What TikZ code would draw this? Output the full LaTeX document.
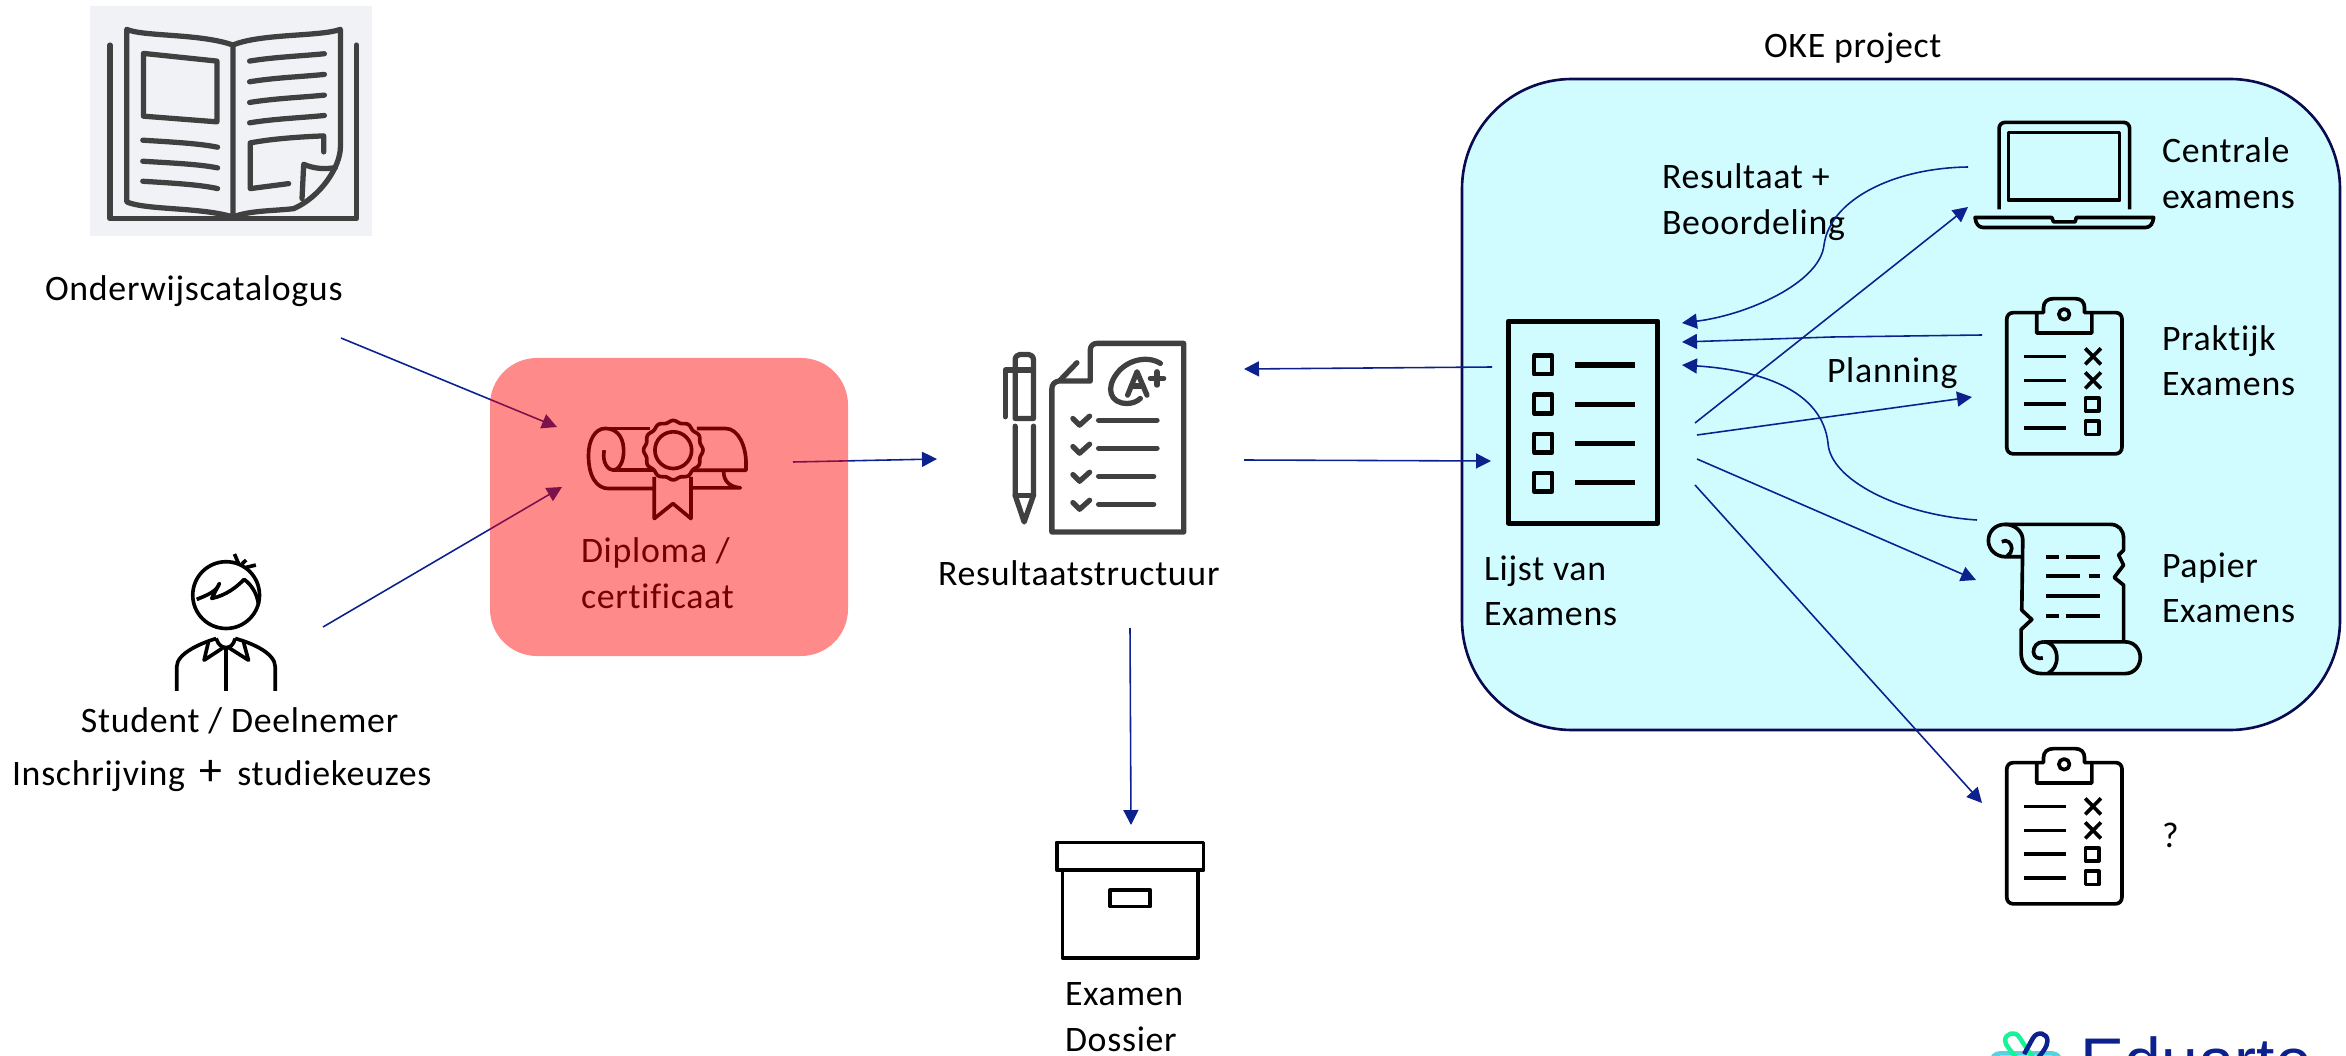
\documentclass[tikz,border=0pt]{standalone}
\usepackage{fontspec}
\setmainfont{Carlito}[LetterSpace=2.0,Ligatures=NoCommon]
\newfontfamily\logofont{Liberation Sans}
\usetikzlibrary{arrows.meta}
\definecolor{arrowblue}{RGB}{13,33,142}
\definecolor{okefill}{RGB}{208,252,255}
\definecolor{okeline}{RGB}{10,10,80}
\definecolor{icongrey}{RGB}{64,64,64}
\definecolor{bookbg}{RGB}{240,242,245}
\definecolor{logogreen}{RGB}{20,245,154}
\definecolor{logocyan}{RGB}{86,210,224}
\newcommand{\twolines}[2]{\vtop{\baselineskip=13.1pt\hbox{\strut #1}\hbox{\strut #2}}}
\tikzset{
  zoomed/.style={x=0.0033377cm,y=-0.0033377cm},
  icon/.style={draw=black,line width=1.04pt,line join=round,fill=none},
  greyicon/.style={draw=icongrey,line width=1.5pt,line cap=round,line join=round,fill=none},
  label/.style={anchor=base west,inner sep=0pt,outer sep=0pt,font=\fontsize{10.2pt}{13.1pt}\selectfont,text=black},
  conn/.style={draw=arrowblue,line width=.45pt,-{Triangle[length=.15cm,width=.15cm]}},
}
\newcommand{\clipboardicon}[1]{%
  \begin{scope}[shift={#1},zoomed]
    \draw[icon] (260,637) -- (190,637) .. controls (178,637) and (170,645) .. (170,657) -- (170,1040)
      .. controls (170,1052) and (178,1060) .. (190,1060) -- (495,1060)
      .. controls (507,1060) and (515,1052) .. (515,1040) -- (515,655)
      .. controls (515,645) and (507,637) .. (497,637) -- (425,637);
    \draw[icon] (260,698) -- (425,698) -- (425,637) -- (403,637) -- (403,622)
      .. controls (403,605) and (392,595) .. (375,595) -- (310,595)
      .. controls (292,595) and (280,605) .. (280,622) -- (280,637) -- (260,637) -- cycle;
    \draw[icon] (342,642) circle (16);
    \foreach \yy in {768,840,911,983} \draw[icon] (222,\yy) -- (348,\yy);
    \foreach \yy in {768,840} {
      \draw[icon] (405,\yy-24) -- (452,\yy+24);
      \draw[icon] (452,\yy-24) -- (405,\yy+24);
    }
    \draw[icon] (406,893) rectangle (446,931);
    \draw[icon] (406,962) rectangle (446,1002);
  \end{scope}}
\begin{document}
\begin{tikzpicture}[x=0.010013cm,y=-0.010013cm]
\useasboundingbox (0,0) rectangle (2346,1056);
\clip (0,0) rectangle (2346,1056);

% OKE project box
\draw[okeline,fill=okefill,line width=.75pt] (1462,79) [rounded corners=1.1cm] -- (1462,730) -- (2340,730) -- (2340,79) -- cycle;

% Book
\fill[bookbg] (90,6) rectangle (372,236);
\begin{scope}[shift={(60,0)},zoomed]
  \draw[greyicon] (150,135) -- (150,655) -- (888,655) -- (888,135);
  \draw[greyicon] (518,650) .. controls (420,620) and (260,630) .. (200,605) -- (200,88)
     .. controls (250,110) and (420,100) .. (518,135) -- (518,650);
  \draw[greyicon] (518,135) .. controls (600,100) and (780,110) .. (840,88) -- (840,440)
     .. controls (840,500) and (780,590) .. (700,625) .. controls (640,632) and (570,630) .. (518,650);
  \draw[greyicon] (250,160) -- (470,183) -- (470,365) -- (250,348) -- cycle;
  \draw[greyicon] (248,420) .. controls (330,425) and (420,430) .. (472,441);
  \draw[greyicon] (248,483) .. controls (330,488) and (420,492) .. (472,503);
  \draw[greyicon] (248,543) .. controls (330,548) and (420,553) .. (472,565);
  \foreach \yy in {183,245,307,368} \draw[greyicon] (568,\yy) .. controls (640,\yy-12) and (720,\yy-15) .. (792,\yy-22);
  \draw[greyicon] (790,455) -- (790,407) .. controls (720,410) and (640,415) .. (570,428) -- (570,565) -- (685,550);
  \draw[greyicon] (825,502) .. controls (790,508) and (760,505) .. (730,492) -- (725,595);
\end{scope}

% Student
\begin{scope}[shift={(140,530)},zoomed]
  \draw[icon] (258,195) circle (100);
  \draw[icon] (170,208) .. controls (200,195) and (230,185) .. (238,160) -- (215,205)
     .. controls (260,195) and (290,170) .. (312,148) .. controls (335,165) and (350,190) .. (355,222);
  \draw[icon] (283,72) -- (295,100);
  \draw[icon] (305,102) -- (318,90);
  \draw[icon] (318,112) -- (347,105);
  \draw[icon] (110,482) -- (110,410) .. controls (110,370) and (180,340) .. (228,325);
  \draw[icon] (405,482) -- (405,410) .. controls (405,370) and (340,340) .. (285,325);
  \draw[icon] (205,335) -- (192,390) -- (250,352);
  \draw[icon] (310,335) -- (325,390) -- (265,352);
  \draw[icon] (228,325) .. controls (235,345) and (245,352) .. (258,352) .. controls (270,352) and (280,345) .. (285,325);
  \draw[icon] (258,352) -- (258,482);
\end{scope}

% Diploma icon (black under the translucent red box)
\begin{scope}[shift={(480,340)},zoomed]
  \draw[icon] (372,330) .. controls (365,370) and (385,390) .. (400,390)
     .. controls (425,385) and (432,350) .. (430,325) .. controls (428,285) and (405,265) .. (375,265)
     .. controls (345,265) and (325,300) .. (325,345) .. controls (325,410) and (350,445) .. (385,445) -- (520,445);
  \draw[icon] (375,265) -- (510,265);
  \draw[icon] (650,265) -- (735,265) .. controls (775,265) and (797,320) .. (797,370) -- (797,390) -- (635,390);
  \draw[icon] (400,390) -- (520,390);
  \draw[icon] (730,395) .. controls (730,420) and (745,440) .. (780,443) -- (635,443);
  \draw[icon] (522,410) -- (522,535) -- (578,490) -- (632,535) -- (632,410);
  \draw[icon] (579,330) circle (55);
  \draw[icon,domain=0:360,samples=145,smooth] plot ({579+(86+3*cos(12*\x))*cos(\x)},{330+(86+3*cos(12*\x))*sin(\x)});
\end{scope}

% Resultaat icon
\begin{scope}[shift={(920,320)},zoomed]
  \draw[greyicon] (395,205) -- (395,635) -- (790,635) -- (790,70) -- (530,70) .. controls (517,70) and (510,80) .. (510,90) -- (510,183) -- (415,183) .. controls (402,185) and (395,195) .. (395,205);
  \draw[greyicon] (420,180) -- (470,128);
  \draw[greyicon] (622,225) -- (650,155) -- (680,225);
  \draw[greyicon] (633,198) -- (668,198);
  \draw[greyicon] (690,175) -- (730,175);
  \draw[greyicon] (710,155) -- (710,195);
  \draw[greyicon] (720,130) .. controls (680,105) and (620,120) .. (590,160) .. controls (555,205) and (570,250) .. (620,250) .. controls (635,250) and (650,245) .. (660,235);
  \foreach \yy/\xe in {0/710,84/710,168/700,252/700} {
    \draw[greyicon] (458,295+\yy) -- (478,315+\yy) -- (508,288+\yy);
    \draw[greyicon] (535,300+\yy) -- (\xe,300+\yy);
  }
  \draw[greyicon] (285,295) -- (285,120) .. controls (285,110) and (292,103) .. (300,103) -- (325,103) .. controls (333,103) and (340,110) .. (340,120) -- (340,295) -- cycle;
  \draw[greyicon] (255,290) -- (255,150) -- (340,150);
  \draw[greyicon] (285,318) -- (285,525) -- (312,605) -- (340,525) -- (340,318);
  \draw[greyicon] (285,525) -- (340,525);
\end{scope}

% Lijst van examens icon
\begin{scope}[shift={(1480,290)},zoomed]
  \draw[icon,line width=1.42pt] (85,93) rectangle (533,698);
  \foreach \yy in {197,314,431,548} \draw[icon,line width=1.33pt] (162,\yy) rectangle (216,\yy+55);
  \draw[icon,line width=1.7pt] (285,225) -- (465,225);
  \foreach \yy in {342,459,576} \draw[icon,line width=1.42pt] (285,\yy) -- (465,\yy);
\end{scope}

% Laptop
\begin{scope}[shift={(1950,100)},zoomed]
  \draw[icon] (147,328) -- (147,85) .. controls (147,75) and (155,67) .. (165,67) -- (520,67) .. controls (530,67) and (538,75) .. (538,85) -- (538,328);
  \draw[icon] (175,97) rectangle (508,300);
  \draw[icon] (75,352) -- (305,352) -- (310,365) -- (375,365) -- (378,352) -- (610,352) .. controls (608,370) and (600,382) .. (585,382) -- (100,382) .. controls (85,382) and (77,370) .. (75,352) -- cycle;
\end{scope}

% Clipboards
\clipboardicon{(1950,100)}
\clipboardicon{(1950,550)}

% Scroll
\begin{scope}[shift={(1950,500)},zoomed]
  \draw[icon] (165,73) -- (480,73) .. controls (505,73) and (520,90) .. (520,115) -- (520,150) -- (505,165) -- (520,195) -- (492,232) -- (520,255) -- (520,425);
  \draw[icon] (218,120) -- (215,330) -- (245,358) -- (213,388) -- (213,460) .. controls (213,495) and (240,520) .. (275,520) -- (525,520) .. controls (552,520) and (570,497) .. (570,472) .. controls (570,447) and (552,425) .. (525,425) -- (280,425);
  \draw[icon] (165,73) .. controls (135,73) and (115,95) .. (115,122) .. controls (115,150) and (140,170) .. (165,170) -- (215,170);
  \draw[icon] (165,73) .. controls (195,73) and (218,95) .. (218,120);
  \draw[icon] (155,125) .. controls (170,115) and (185,130) .. (185,145) .. controls (185,155) and (180,162) .. (172,167);
  \draw[icon] (280,425) .. controls (305,425) and (320,447) .. (320,472) .. controls (320,495) and (310,510) .. (295,518);
  \draw[icon] (280,425) .. controls (260,425) and (250,440) .. (250,455) .. controls (250,470) and (265,478) .. (278,473);
  \draw[icon] (288,170) -- (325,170);
  \draw[icon] (348,170) -- (450,170);
  \draw[icon] (288,228) -- (390,228);
  \draw[icon] (415,228) -- (450,228);
  \draw[icon] (288,288) -- (450,288);
  \draw[icon] (288,347) -- (325,347);
  \draw[icon] (348,347) -- (450,347);
\end{scope}

% Archive box
\begin{scope}[shift={(1000,820)},zoomed]
  \draw[icon] (170,67) rectangle (610,150);
  \draw[icon] (187,150) -- (187,413) -- (593,413) -- (593,150);
  \draw[icon] (330,209) rectangle (450,259);
\end{scope}

% Logo
\begin{scope}[shift={(1950,980)},zoomed]
  \draw[logocyan,line width=1.3pt,rounded corners=.08cm] (125,245) -- (125,220) -- (330,220) -- (330,245);
  \draw[logogreen,line width=1.3pt,line join=round] (250,235) -- (208,172) .. controls (195,150) and (165,160) .. (165,182) .. controls (165,195) and (185,215) .. (205,240);
  \draw[arrowblue,line width=1.3pt,line join=round] (222,222) -- (248,175) .. controls (262,150) and (292,160) .. (292,182) .. controls (292,200) and (275,220) .. (258,240);
\end{scope}
\node[anchor=base west,inner sep=0pt,text=arrowblue,font=\logofont\fontsize{18.8pt}{20pt}\selectfont] (logotext) at (2080,1084) {Eduarte};

% Labels
\node[label] (onderwijs) at (45,301) {Onderwijscatalogus};
\node[label] (student) at (81,732) {Student / Deelnemer};
\node[label] (inschrijving) at (12,785) {Inschrijving\, {\fontsize{13pt}{13pt}\selectfont +}\, studiekeuzes};
\node[label] (diploma) at (581,563) {\twolines{Diploma /}{certificaat}};
\node[label] (resultaat) at (938,585) {Resultaatstructuur};
\node[label] (dossier) at (1065,1005) {\twolines{Examen}{Dossier}};
\node[label] (lijst) at (1484,580) {\twolines{Lijst van}{Examens}};
\node[label] (oke) at (1764,58) {OKE project};
\node[label] (beoordeling) at (1662,189) {\twolines{Resultaat +}{Beoordeling}};
\node[label] (planning) at (1827,383) {Planning};
\node[label] (centrale) at (2162,163) {\twolines{Centrale}{examens}};
\node[label] (praktijk) at (2162,350) {\twolines{Praktijk}{Examens}};
\node[label] (papier) at (2162,577) {\twolines{Papier}{Examens}};
\node[label] (vraag) at (2162,847) {?};

% Connector ends
\coordinate (catOut) at (341,338);
\coordinate (dipInA) at (557,427);
\coordinate (stuOut) at (323,627);
\coordinate (dipInB) at (562,487);
\coordinate (dipOut) at (793,462);
\coordinate (resIn) at (937,459);
\coordinate (lijstBack) at (1492,367);
\coordinate (resBackIn) at (1244,369);
\coordinate (resOut) at (1244,460);
\coordinate (lijstIn) at (1491,461);
\coordinate (resDown) at (1130,628);
\coordinate (boxIn) at (1131,825);
\coordinate (lapOut) at (1968,167);
\coordinate (lijstA) at (1682,323);
\coordinate (lijstBmid) at (1832,337);
\coordinate (prakOut) at (1982,335);
\coordinate (lijstB) at (1682,342);
\coordinate (papOut) at (1977,520);
\coordinate (lijstC) at (1682,365);
\coordinate (lijstOutA) at (1695,423);
\coordinate (lapIn) at (1968,207);
\coordinate (lijstOutB) at (1697,435);
\coordinate (prakIn) at (1972,397);
\coordinate (lijstOutC) at (1697,459);
\coordinate (papIn) at (1976,580);
\coordinate (lijstOutD) at (1695,485);
\coordinate (vraagIn) at (1982,803);

% Connectors
\draw[conn] (catOut) -- (dipInA);
\draw[conn] (stuOut) -- (dipInB);
\draw[conn] (dipOut) -- (resIn);
\draw[conn] (lijstBack) -- (resBackIn);
\draw[conn] (resOut) -- (lijstIn);
\draw[conn] (resDown) -- (boxIn);
\draw[conn] (lapOut) .. controls (1893,168) and (1830,200) .. (1824,245) .. controls (1820,283) and (1747,315) .. (lijstA);
\draw[conn] (prakOut) -- (lijstBmid) -- (lijstB);
\draw[conn] (papOut) .. controls (1900,515) and (1830,480) .. (1828,443) .. controls (1822,390) and (1760,370) .. (lijstC);
\draw[conn] (lijstOutA) -- (lapIn);
\draw[conn] (lijstOutB) -- (prakIn);
\draw[conn] (lijstOutC) -- (papIn);
\draw[conn] (lijstOutD) -- (vraagIn);

% Translucent red box over its contents
\fill[red,fill opacity=.46,rounded corners=.47cm] (490,358) rectangle (848,656);
\end{tikzpicture}
\end{document}
